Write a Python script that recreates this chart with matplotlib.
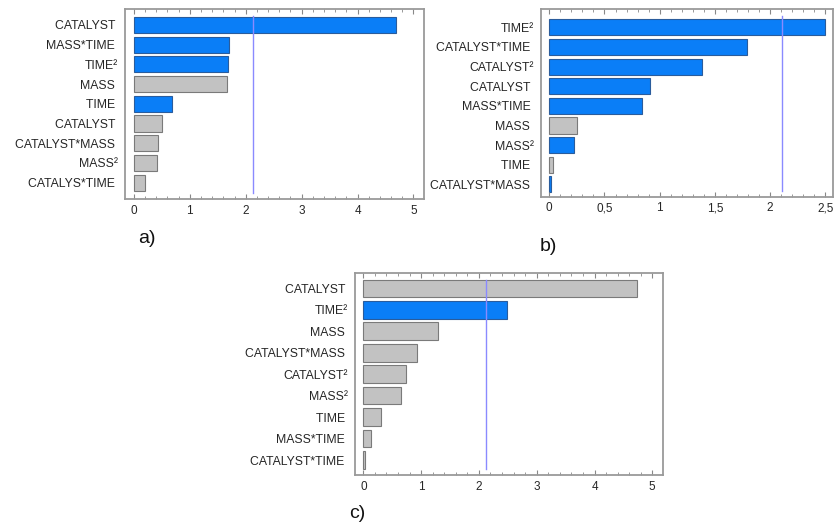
import matplotlib
matplotlib.use("Agg")
import matplotlib.pyplot as plt
from matplotlib.ticker import MultipleLocator, FuncFormatter

plt.rcParams["font.family"] = ["Liberation Sans", "DejaVu Sans"]

# ------------------------------------------------------------------------------
# Data (standardized effects, Pareto charts)
# ------------------------------------------------------------------------------

labels_a = ["CATALYST", "MASS*TIME", "TIME²", "MASS", "TIME",
            "CATALYST", "CATALYST*MASS", "MASS²", "CATALYS*TIME"]
values_a = [4.69, 1.70, 1.69, 1.67, 0.68, 0.51, 0.43, 0.42, 0.19]
positive_a = [True, True, True, False, True, False, False, False, False]

labels_b = ["TIME²", "CATALYST*TIME", "CATALYST²", "CATALYST", "MASS*TIME",
            "MASS", "MASS²", "TIME", "CATALYST*MASS"]
values_b = [2.50, 1.79, 1.38, 0.91, 0.84, 0.25, 0.22, 0.03, 0.015]
positive_b = [True, True, True, True, True, False, True, False, True]

labels_c = ["CATALYST", "TIME²", "MASS", "CATALYST*MASS", "CATALYST²",
            "MASS²", "TIME", "MASS*TIME", "CATALYST*TIME"]
values_c = [4.73, 2.49, 1.29, 0.92, 0.73, 0.66, 0.31, 0.14, 0.02]
positive_c = [False, True, False, False, False, False, False, False, False]

critical_a = 2.13
critical_b = 2.11
critical_c = 2.12

BLUE = "#0a7ef7"
BLUE_EDGE = "#2a5c9c"
GRAY = "#c2c2c2"
GRAY_EDGE = "#7a7a7a"
FRAME = "#9a9a9a"
TEXT = "#262626"

fig = plt.figure(figsize=(8.34, 5.22), dpi=100)

panels = [
    # rect, labels, values, signs, critical, xlim, ylim, major, minor, letter pos
    ([0.1499, 0.6188, 0.3585, 0.3640], labels_a, values_a, positive_a, critical_a,
     (-0.16, 5.19), (8.83, -0.81), 1, 0.2, "a)", (0.176, 0.543)),
    ([0.6483, 0.6232, 0.3505, 0.3590], labels_b, values_b, positive_b, critical_b,
     (-0.078, 2.57), (8.63, -0.92), 0.5, 0.1, "b)", (0.657, 0.527)),
    ([0.4257, 0.0900, 0.3689, 0.3876], labels_c, values_c, positive_c, critical_c,
     (-0.144, 5.18), (8.70, -0.73), 1, 0.2, "c)", (0.428, 0.017)),
]

for rect, labels, values, signs, crit, xlim, ylim, major, minor, letter, lpos in panels:
    ax = fig.add_axes(rect)
    y = list(range(len(labels)))
    colors = [BLUE if s else GRAY for s in signs]
    edges = [BLUE_EDGE if s else GRAY_EDGE for s in signs]
    ax.barh(y, values, height=0.82, color=colors, edgecolor=edges, linewidth=0.8)
    ax.axvline(crit, ymin=0.03, ymax=0.965, color="#8a8aff", linewidth=1.0)

    ax.set_xlim(*xlim)
    ax.set_ylim(*ylim)
    ax.set_yticks(y)
    ax.set_yticklabels([l if "²" in l else l + " " for l in labels], fontsize=8.8,
                       color=TEXT)
    ax.tick_params(axis="y", length=0, pad=5)

    ax.xaxis.set_major_locator(MultipleLocator(major))
    ax.xaxis.set_minor_locator(MultipleLocator(minor))
    ax.xaxis.set_major_formatter(
        FuncFormatter(lambda v, p: ("%g" % v).replace(".", ",")))
    ax.tick_params(axis="x", which="both", direction="in", top=True,
                   color="#888888", labelsize=8.5, labelcolor=TEXT, pad=4)
    ax.tick_params(axis="x", which="major", length=3.5, width=0.8)
    ax.tick_params(axis="x", which="minor", length=2, width=0.6)

    for sp in ax.spines.values():
        sp.set_color(FRAME)
        sp.set_linewidth(1.3)

    fig.text(lpos[0], lpos[1], letter, fontsize=14, ha="center", va="center",
             color="#111111")

plt.savefig("out.png", dpi=100)
